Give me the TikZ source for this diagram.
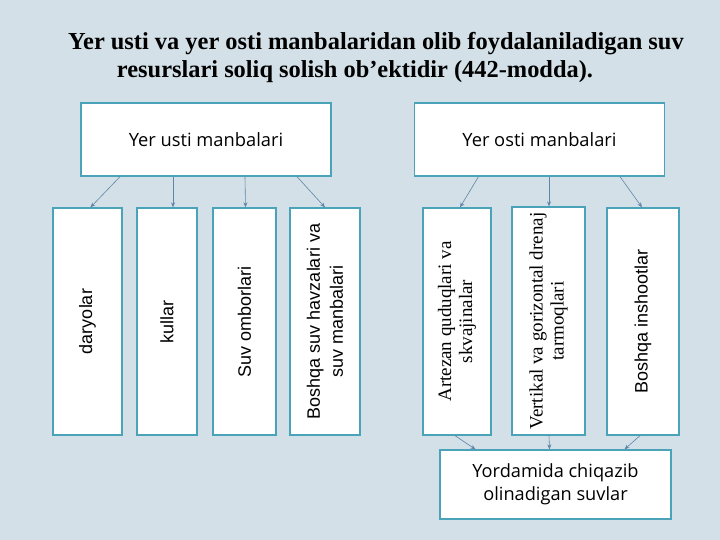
\documentclass[tikz,border=0pt]{standalone}
\usepackage{fontspec}
\setmainfont{Liberation Serif}
\newfontfamily\opensans{Open Sans}
\newfontfamily\libsans{Liberation Sans}
\newfontfamily\libserif{Liberation Serif}
\usetikzlibrary{arrows.meta}
\definecolor{bgc}{HTML}{D3E0E7}
\definecolor{boxc}{HTML}{4AA3B8}
\definecolor{arrc}{HTML}{5F85A8}
\tikzset{
  topbox/.style={draw=boxc, line width=1.3pt, fill=white, minimum width=250pt, minimum height=73pt, inner sep=0pt, font=\opensans\fontsize{18.3}{22}\selectfont},
  vbox/.style={draw=boxc, line width=1.3pt, fill=white, inner sep=0pt},
  vtext/.style={rotate=90, align=center, font=\libsans\fontsize{18}{23}\selectfont},
  vstext/.style={rotate=90, align=center, font=\libserif\fontsize{19}{21}\selectfont},
  conn/.style={draw=arrc, line width=0.6pt, -{Stealth[length=5pt,width=4pt]}},
}
\begin{document}
\begin{tikzpicture}[x=1pt,y=-1pt]
\fill[bgc] (0,0) rectangle (720,540);
\useasboundingbox (0,0) rectangle (720,540);
% title
\node[font=\bfseries\fontsize{24.4}{28}\selectfont, anchor=base] (t1) at (376,50) {Yer usti va yer osti manbalaridan olib foydalaniladigan suv};
\node[font=\bfseries\fontsize{24.4}{28}\selectfont, anchor=base] (t2) at (355,78) {resurslari soliq solish ob’ektidir (442-modda).};
% top boxes
\node[topbox] (us) at (206,139.5) {Yer usti manbalari};
\node[topbox] (os) at (539.5,139.5) {Yer osti manbalari};
% vertical boxes
\node[vbox, minimum width=69pt, minimum height=227pt] (d) at (87.5,321.5) {};
\node[vtext] at (d) {daryolar};
\node[vbox, minimum width=60pt, minimum height=227pt] (k) at (167,321.5) {};
\node[vtext] at (k) {kullar};
\node[vbox, minimum width=63pt, minimum height=227pt] (so) at (244.5,321.5) {};
\node[vtext] at (so) {Suv omborlari};
\node[vbox, minimum width=70pt, minimum height=227pt] (bs) at (325,321.5) {};
\node[vtext] at (bs) {Boshqa suv havzalari va\\suv manbalari};
\node[vbox, minimum width=68pt, minimum height=227pt] (ar) at (457,321.5) {};
\node[vstext] at (ar) {Artezan quduqlari va\\skvajinalar};
\node[vbox, minimum width=73pt, minimum height=228pt] (ve) at (548.5,321) {};
\node[vstext] at (ve) {Vertikal va gorizontal drenaj\\tarmoqlari};
\node[vbox, minimum width=72pt, minimum height=227pt] (bi) at (643,321.5) {};
\node[vtext] at (bi) {Boshqa inshootlar};
% bottom box
\node[draw=boxc, line width=1.3pt, fill=white, minimum width=231pt, minimum height=69pt, align=center, font=\opensans\fontsize{18.2}{23}\selectfont] (yo) at (555.5,484.5) {Yordamida chiqazib\\olinadigan suvlar};
% connectors
\draw[conn] ([xshift=-86pt]us.south) -- ([xshift=3pt]d.north);
\draw[conn] ([xshift=-33pt]us.south) -- ([xshift=6pt]k.north);
\draw[conn] ([xshift=39pt]us.south) -- ([xshift=1pt]so.north);
\draw[conn] ([xshift=91pt]us.south) -- ([xshift=0pt]bs.north);
\draw[conn] ([xshift=-61pt]os.south) -- ([xshift=3pt]ar.north);
\draw[conn] ([xshift=9.5pt]os.south) -- ([xshift=0.5pt]ve.north);
\draw[conn] ([xshift=80.5pt]os.south) -- ([xshift=-1pt]bi.north);
\draw[conn] ([xshift=-2pt]ar.south) -- ([xshift=-80pt]yo.north);
\draw[conn] ([xshift=0.5pt]ve.south) -- ([xshift=-6pt]yo.north);
\draw[conn] ([xshift=-3pt]bi.south) -- ([xshift=69pt]yo.north);
\end{tikzpicture}
\end{document}
